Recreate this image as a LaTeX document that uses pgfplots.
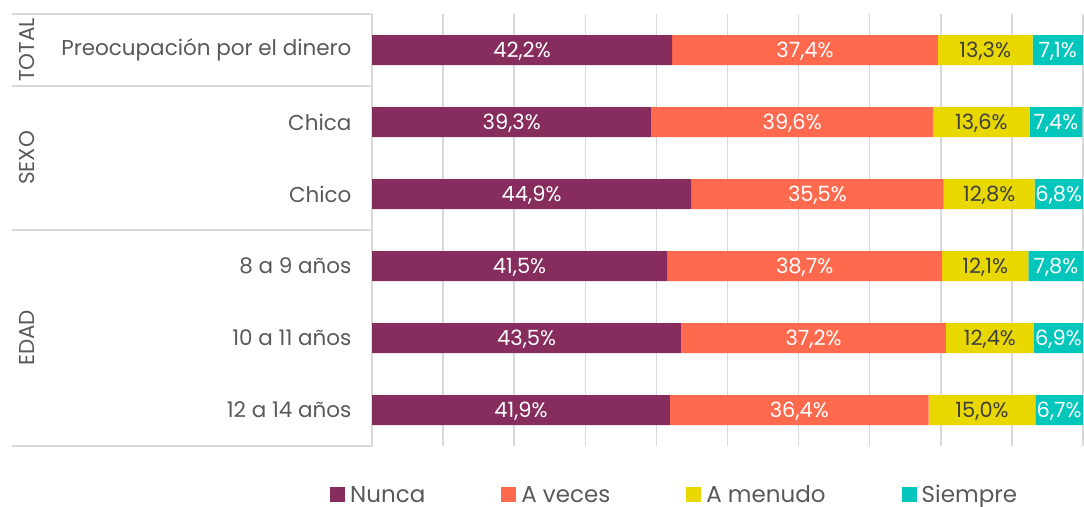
\documentclass[border=0pt]{standalone}
\usepackage{fontspec}
\setmainfont{Poppins}
\usepackage{pgfplots}
\pgfplotsset{compat=1.18}
\usepackage{pgfplotstable}
\definecolor{cN}{HTML}{872D5E}
\definecolor{cA}{HTML}{FF6A4F}
\definecolor{cM}{HTML}{E9D700}
\definecolor{cS}{HTML}{00C6BB}
\definecolor{txt}{HTML}{595959}
\definecolor{lbl}{HTML}{404040}
\definecolor{gridc}{HTML}{D9D9D9}
\pgfplotstableread{
row n a m s
0 42.2 37.4 13.3 7.1
1 39.3 39.6 13.6 7.4
2 44.9 35.5 12.8 6.8
3 41.5 38.7 12.1 7.8
4 43.5 37.2 12.4 6.9
5 41.9 36.4 15.0 6.7
}\data
\newcommand{\fs}{\fontsize{21.5}{25}\selectfont}
\newcommand{\fl}{\fontsize{23}{26}\selectfont}
\newcommand{\fd}{\fontsize{21}{24}\selectfont}
\begin{document}
\begin{tikzpicture}[x=1pt,y=1pt]
\path[use as bounding box] (0,0) rectangle (1084,506);
% table frame on the left
\foreach \yy in {492,420,276,60} \draw[gridc, line width=1.5pt] (12,\yy) -- (372,\yy);
\node[rotate=90, text=txt, font=\fs] at (27,456) {TOTAL};
\node[rotate=90, text=txt, font=\fs] at (27,348) {SEXO};
\node[rotate=90, text=txt, font=\fs] at (27,168) {EDAD};
\begin{axis}[
  at={(372pt,60pt)}, anchor=south west,
  scale only axis, width=711.7pt, height=432pt,
  xbar stacked, bar width=30pt,
  xmin=0, xmax=100.1, ymin=-0.5, ymax=5.5, y dir=reverse,
  clip=false,
  axis line style={draw=none},
  xtick={0,10,...,100}, xticklabels={}, major tick length=0pt,
  xmajorgrids, grid style={gridc, line width=1.5pt},
  ytick={0,...,5},
  yticklabels={Preocupación por el dinero, Chica, Chico, 8 a 9 años, 10 a 11 años, 12 a 14 años},
  yticklabel style={font=\fs, text=txt, anchor=east, xshift=-17pt},
  /pgf/number format/assume math mode=true,
  point meta=explicit,
  nodes near coords={\pgfmathprintnumber[fixed,fixed zerofill,precision=1,use comma]{\pgfplotspointmeta}\%},
  every node near coord/.append style={font=\fd, anchor=center, yshift=-1pt},
  legend columns=4,
  legend style={at={(-0.059,-0.113)}, anchor=west, draw=none, fill=none, font=\fl, text=txt,
    /tikz/every even column/.append style={column sep=75pt}, inner sep=0pt, nodes={inner sep=1pt}},
  sq/.style={legend image code/.code={\fill[##1] (0pt,-7.5pt) rectangle (15pt,7.5pt); \path (19pt,0pt);}},
]
\addplot[fill=cN, draw=none, sq, every node near coord/.append style={text=white}] table[x=n, y=row, meta=n] {\data};
\addplot[fill=cA, draw=none, sq, every node near coord/.append style={text=white}] table[x=a, y=row, meta=a] {\data};
\addplot[fill=cM, draw=none, sq, every node near coord/.append style={text=lbl}] table[x=m, y=row, meta=m] {\data};
\addplot[fill=cS, draw=none, sq, every node near coord/.append style={text=white}] table[x=s, y=row, meta=s] {\data};
\legend{Nunca, A veces, A menudo, Siempre}
\end{axis}
\end{tikzpicture}
\end{document}
